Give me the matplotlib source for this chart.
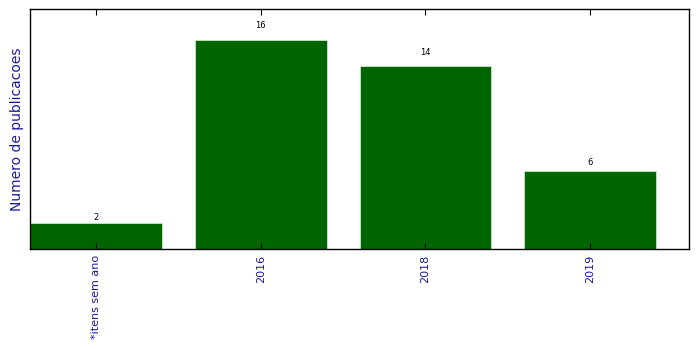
import numpy as np
import matplotlib as mpl
mpl.use('Agg')
import matplotlib.pyplot as plt

categorias = ['*itens sem ano', '2016', '2018', '2019']
publicacoes = [2, 16, 14, 6]

dpi = 100
fig = plt.figure(figsize=(6.99, 3.49), dpi=dpi)
ax = fig.add_axes([30/699., 100/349., 659/699., 240/349.])

x = np.arange(len(categorias))
bars = ax.bar(x, publicacoes, width=0.8, color='#006400',
              edgecolor='#c8e8c8', linewidth=0.6)

for b, v in zip(bars, publicacoes):
    ax.text(b.get_x() + b.get_width()/2., 1.05*v, str(v),
            ha='center', va='bottom', fontsize=6)

ax.set_xlim(-0.4, 3.6)
ax.set_ylim(0, max(publicacoes)*1.15)
ax.set_xticks(x)
ax.set_xticklabels(categorias, rotation=90, fontsize=8, color='#1a1a9a')
ax.tick_params(axis='x', direction='in', top=True, bottom=True,
               length=4, width=0.8, pad=4)
ax.set_yticks([])
ax.set_ylabel('Numero de publicacoes', fontsize=10, color='#1a1a9a')
for s in ax.spines.values():
    s.set_linewidth(1.0)

plt.savefig('out.png', dpi=dpi)
